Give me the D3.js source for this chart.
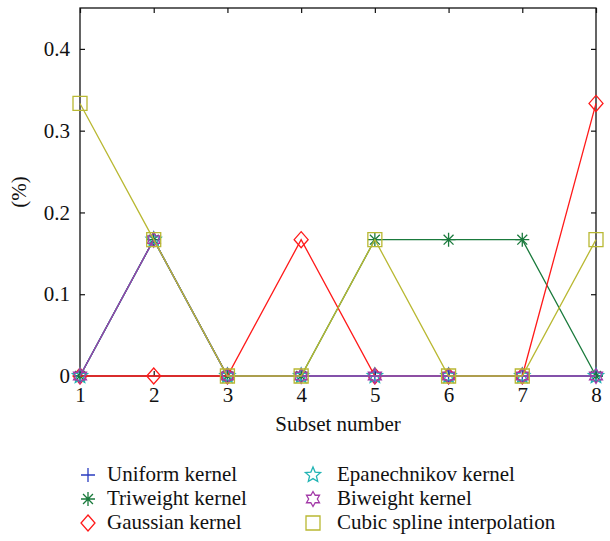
<!DOCTYPE html>
<html>
<head>
<meta charset="utf-8">
<script src="https://cdn.jsdelivr.net/npm/d3@7"></script>
<style>
  body { margin: 0; background: #fff; }
  svg text { font-family: "Liberation Serif", "DejaVu Serif", serif; fill: #111; }
</style>
</head>
<body>
<svg id="chart" width="610" height="541"></svg>
<script>
const subsets = [1, 2, 3, 4, 5, 6, 7, 8]
const xTicks = [1, 2, 3, 4, 5, 6, 7, 8]
const yTicks = [0, 0.1, 0.2, 0.3, 0.4]
const yTickLabels = ["0", "0.1", "0.2", "0.3", "0.4"]

const uniform      = [0, 0.1667, 0, 0, 0, 0, 0, 0]
const triweight    = [0, 0.1667, 0, 0, 0.1667, 0.1667, 0.1667, 0]
const gaussian     = [0, 0, 0, 0.1667, 0, 0, 0, 0.3333]
const epanechnikov = [0, 0.1667, 0, 0, 0, 0, 0, 0]
const biweight     = [0, 0.1667, 0, 0, 0, 0, 0, 0]
const cubic        = [0.3333, 0.1667, 0, 0, 0.1667, 0, 0, 0.1667]

const seriesNames = ["Uniform kernel", "Triweight kernel", "Gaussian kernel",
    "Epanechnikov kernel", "Biweight kernel", "Cubic spline interpolation"]

const series = [
    {name: seriesNames[0], values: uniform, color: "#2a3cc0", marker: "plus"},
    {name: seriesNames[1], values: triweight, color: "#1a7a3c", marker: "asterisk"},
    {name: seriesNames[2], values: gaussian, color: "#ff1a1a", marker: "diamond"},
    {name: seriesNames[3], values: epanechnikov, color: "#22b4b4", marker: "star5"},
    {name: seriesNames[4], values: biweight, color: "#a33aa8", marker: "star6"},
    {name: seriesNames[5], values: cubic, color: "#b9b832", marker: "square"}
]

const margin = {left: 80, right: 14, top: 8, bottom: 165}
const W = 610, H = 541
const fontSize = 21
const svg = d3.select("svg#chart")

const x = d3.scaleLinear().domain([1, 8]).range([margin.left, W - margin.right])
const y = d3.scaleLinear().domain([0, 0.45]).range([H - margin.bottom, margin.top])

// frame
svg.append("rect")
    .attr("x", x(1)).attr("y", y(0.45))
    .attr("width", x(8) - x(1)).attr("height", y(0) - y(0.45))
    .attr("fill", "none").attr("stroke", "#111").attr("stroke-width", 1.3)

// axes, ticks inward
const tickLen = 5
svg.append("g")
    .attr("transform", "translate(0," + y(0) + ")")
    .call(d3.axisBottom(x).tickValues(xTicks).tickFormat(d3.format("d")).tickSizeInner(-tickLen).tickSizeOuter(0).tickPadding(11))
    .call(g => g.select(".domain").remove())
svg.append("g")
    .attr("transform", "translate(0," + y(0.45) + ")")
    .call(d3.axisTop(x).tickValues(xTicks).tickFormat("").tickSizeInner(-tickLen).tickSizeOuter(0))
    .call(g => g.select(".domain").remove())
svg.append("g")
    .attr("transform", "translate(" + x(1) + ",0)")
    .call(d3.axisLeft(y).tickValues(yTicks).tickFormat((d, i) => yTickLabels[i]).tickSizeInner(-tickLen).tickSizeOuter(0).tickPadding(10))
    .call(g => g.select(".domain").remove())
svg.append("g")
    .attr("transform", "translate(" + x(8) + ",0)")
    .call(d3.axisRight(y).tickValues(yTicks).tickFormat("").tickSizeInner(-tickLen).tickSizeOuter(0))
    .call(g => g.select(".domain").remove())

svg.selectAll(".tick line").attr("stroke", "#111").attr("stroke-width", 1.2)
svg.selectAll(".tick text").attr("font-size", fontSize).attr("font-family", "Liberation Serif, serif").attr("fill", "#111")

svg.append("text")
    .attr("x", (x(1) + x(8)) / 2).attr("y", 431)
    .attr("text-anchor", "middle").attr("font-size", fontSize)
    .text("Subset number")
svg.append("text")
    .attr("transform", "translate(26," + y(0.225) + ") rotate(-90)")
    .attr("text-anchor", "middle").attr("font-size", fontSize)
    .text("(%)")

// markers
function markerPath(type, s) {
    const p = d3.path()
    if (type === "plus") {
        p.moveTo(-s, 0); p.lineTo(s, 0); p.moveTo(0, -s); p.lineTo(0, s)
    } else if (type === "asterisk") {
        for (let k = 0; k < 4; k++) {
            const a = k * Math.PI / 4
            p.moveTo(-s * Math.cos(a), -s * Math.sin(a)); p.lineTo(s * Math.cos(a), s * Math.sin(a))
        }
    } else if (type === "diamond") {
        p.moveTo(0, -s * 1.15); p.lineTo(s, 0); p.lineTo(0, s * 1.15); p.lineTo(-s, 0); p.closePath()
    } else if (type === "square") {
        p.rect(-s, -s, 2 * s, 2 * s)
    } else if (type === "star5") {
        for (let k = 0; k < 10; k++) {
            const r = k % 2 === 0 ? s : s * 0.45
            const a = -Math.PI / 2 + k * Math.PI / 5
            if (k === 0) p.moveTo(r * Math.cos(a), r * Math.sin(a))
            else p.lineTo(r * Math.cos(a), r * Math.sin(a))
        }
        p.closePath()
    } else if (type === "star6") {
        for (let k = 0; k < 12; k++) {
            const r = k % 2 === 0 ? s : s * 0.58
            const a = -Math.PI / 2 + k * Math.PI / 6
            if (k === 0) p.moveTo(r * Math.cos(a), r * Math.sin(a))
            else p.lineTo(r * Math.cos(a), r * Math.sin(a))
        }
        p.closePath()
    }
    return p.toString()
}
const markerSize = {plus: 7, asterisk: 7, diamond: 7, star5: 8, star6: 7.5, square: 7}

const line = d3.line().x((d, i) => x(subsets[i])).y(d => y(d))

series.forEach(s => {
    const g = svg.append("g").attr("class", "series")
    g.append("path")
        .datum(s.values)
        .attr("d", line)
        .attr("fill", "none")
        .attr("stroke", s.color)
        .attr("stroke-width", 1.3)
    g.selectAll("path.marker")
        .data(s.values)
        .join("path")
        .attr("class", "marker")
        .attr("transform", (d, i) => "translate(" + x(subsets[i]) + "," + y(d) + ")")
        .attr("d", markerPath(s.marker, markerSize[s.marker]))
        .attr("fill", "none")
        .attr("stroke", s.color)
        .attr("stroke-width", 1.3)
})

// legend
const legend = svg.append("g").attr("class", "legend")
const legX = [88, 313], legTextX = [107, 337], legY = [475, 499, 523]
series.forEach((s, i) => {
    const col = Math.floor(i / 3), row = i % 3
    legend.append("path")
        .attr("transform", "translate(" + legX[col] + "," + legY[row] + ")")
        .attr("d", markerPath(s.marker, markerSize[s.marker]))
        .attr("fill", "none").attr("stroke", s.color).attr("stroke-width", 1.3)
    legend.append("text")
        .attr("x", legTextX[col]).attr("y", legY[row] + 6)
        .attr("font-size", fontSize)
        .text(s.name)
})
</script>
</body>
</html>
